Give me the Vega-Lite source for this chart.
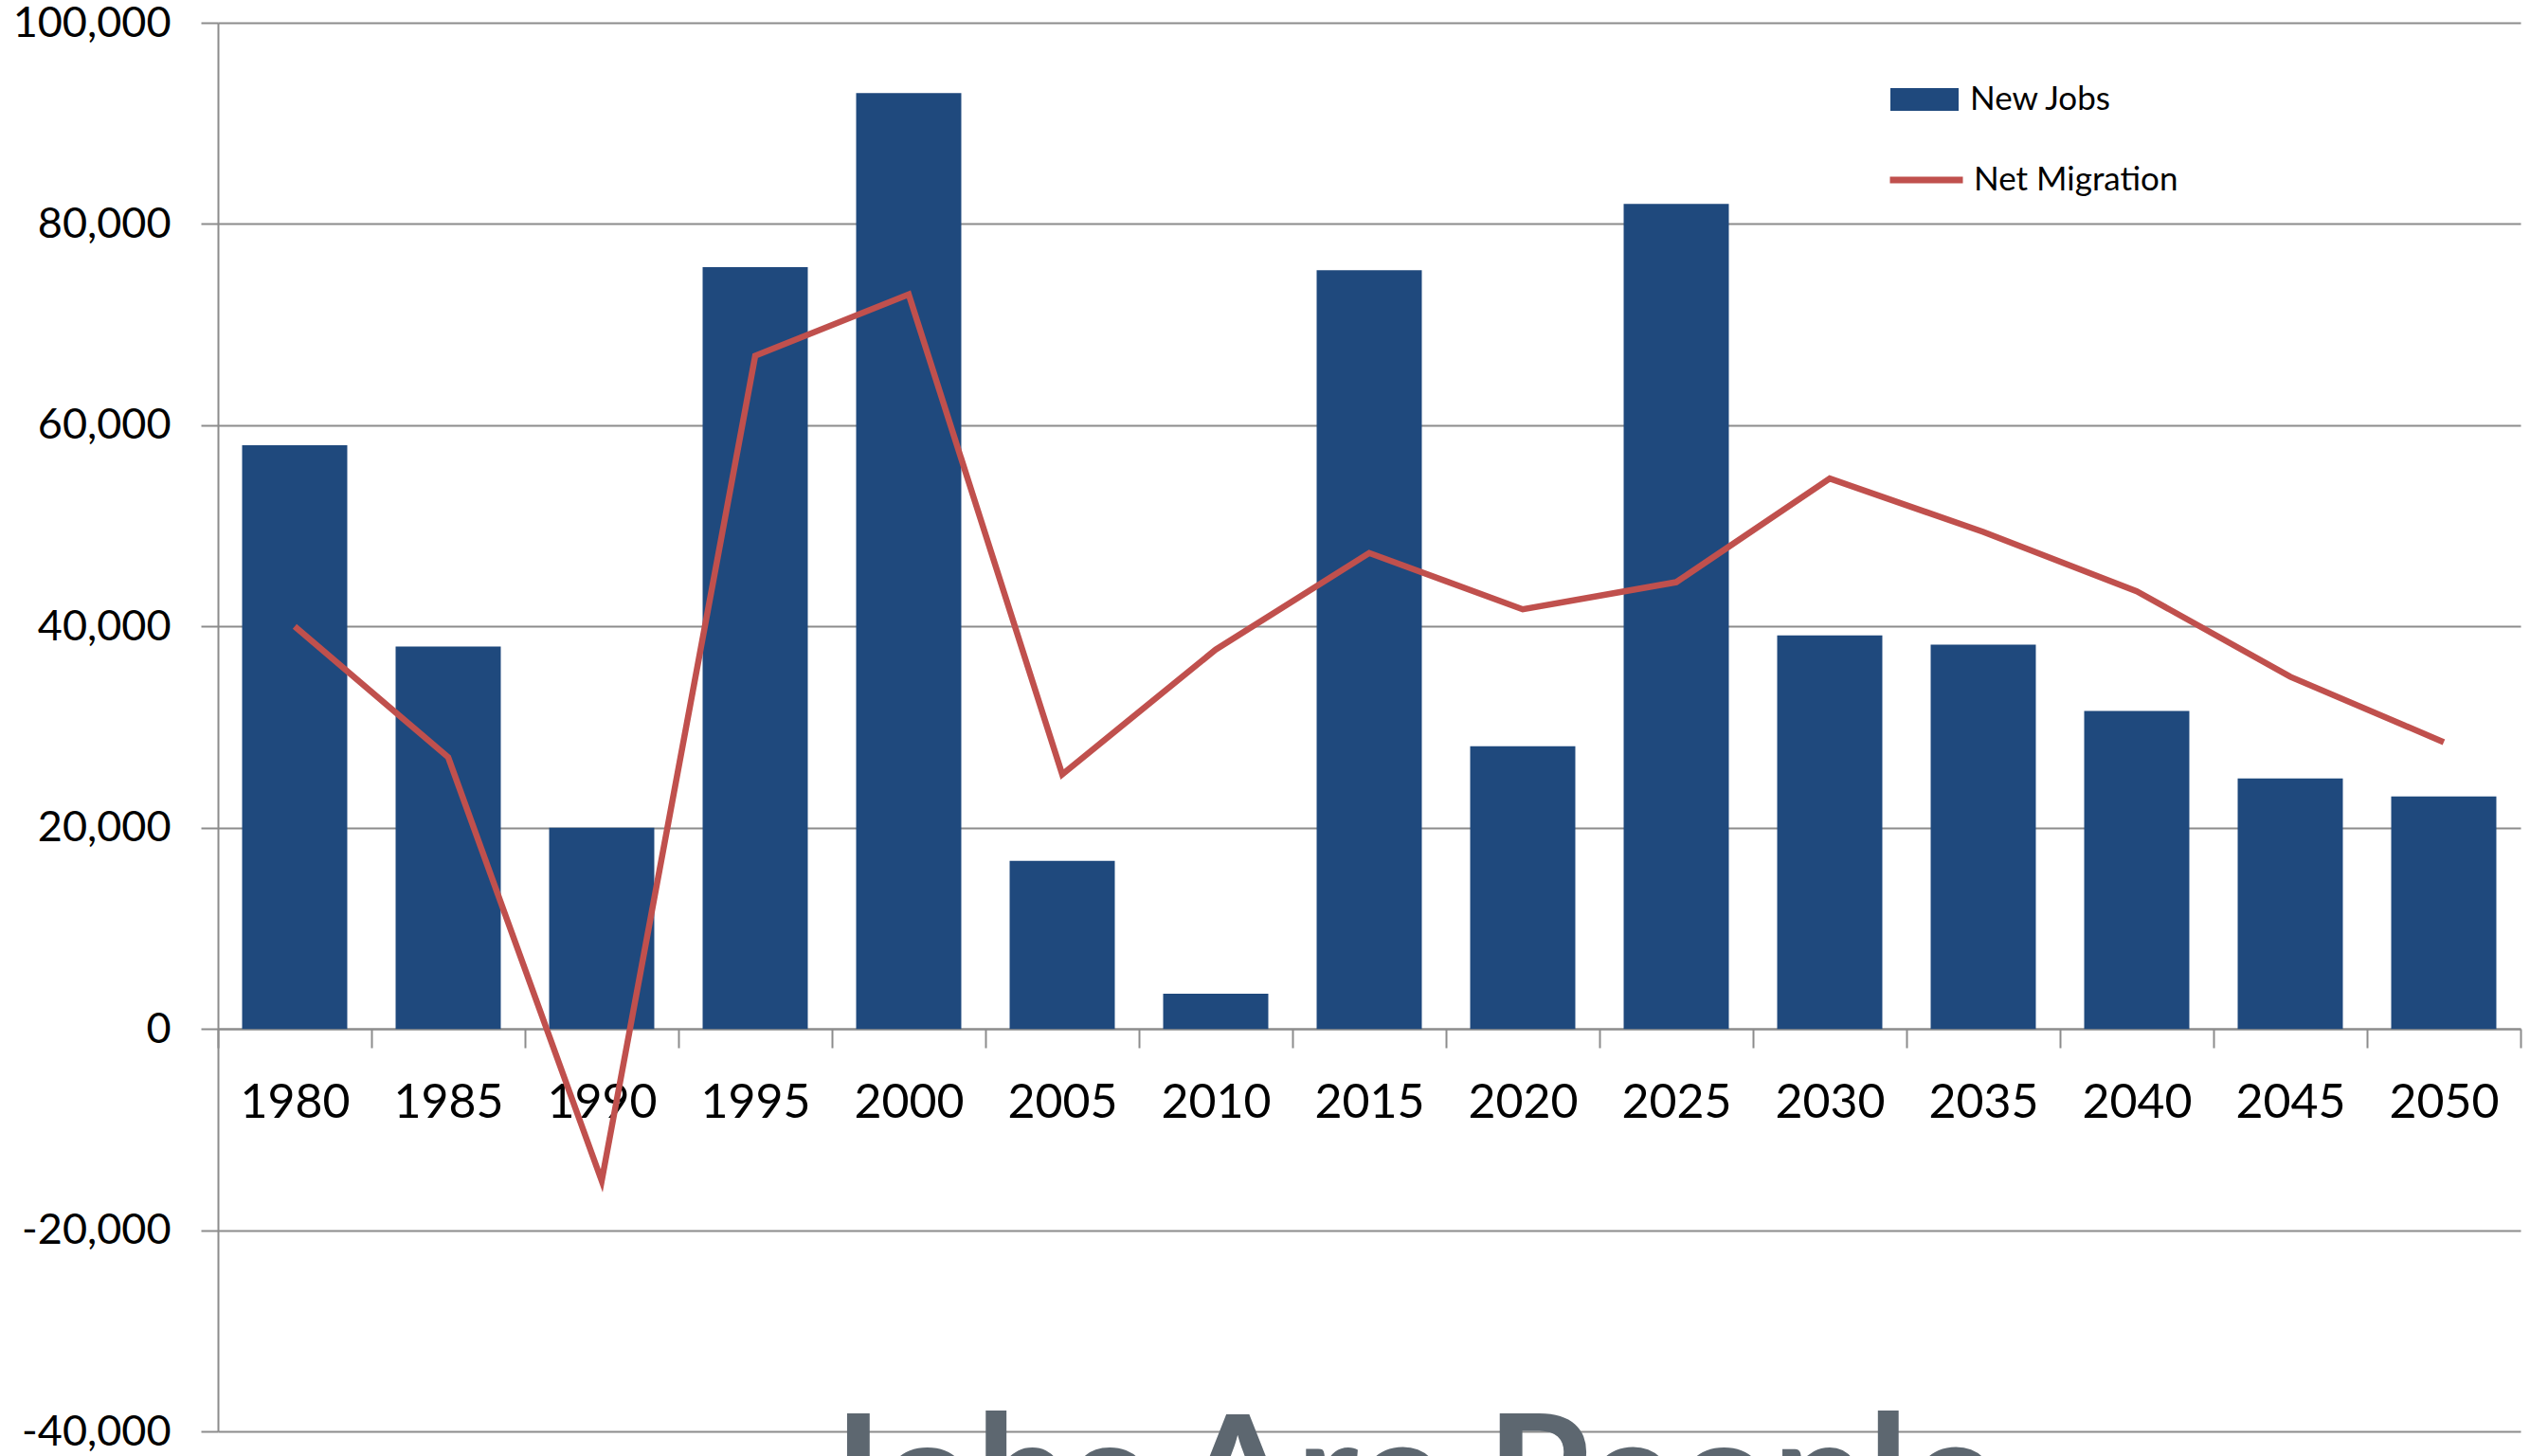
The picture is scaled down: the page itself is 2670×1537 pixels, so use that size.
{
  "$schema": "https://vega.github.io/schema/vega-lite/v6.json",
  "width": 2430,
  "height": 1487,
  "autosize": {"type": "none"},
  "padding": {"left": 230, "top": 24, "right": 10, "bottom": 26},
  "background": "white",
  "title": {
    "text": "Jobs Are People",
    "orient": "bottom",
    "anchor": "middle",
    "font": "Lato",
    "fontSize": 177,
    "fontWeight": "bold",
    "color": "#5d6770",
    "baseline": "alphabetic",
    "offset": 86,
    "dx": 37
  },
  "data": {
    "values": [
      {"year": "1980", "jobs": 58000, "migration": 40000},
      {"year": "1985", "jobs": 38000, "migration": 27000},
      {"year": "1990", "jobs": 20000, "migration": -15100},
      {"year": "1995", "jobs": 75700, "migration": 66900},
      {"year": "2000", "jobs": 93000, "migration": 73000},
      {"year": "2005", "jobs": 16700, "migration": 25300},
      {"year": "2010", "jobs": 3500, "migration": 37700},
      {"year": "2015", "jobs": 75400, "migration": 47300},
      {"year": "2020", "jobs": 28100, "migration": 41700},
      {"year": "2025", "jobs": 82000, "migration": 44400},
      {"year": "2030", "jobs": 39100, "migration": 54700},
      {"year": "2035", "jobs": 38200, "migration": 49400},
      {"year": "2040", "jobs": 31600, "migration": 43500},
      {"year": "2045", "jobs": 24900, "migration": 35000},
      {"year": "2050", "jobs": 23100, "migration": 28500}
    ]
  },
  "config": {
    "view": {"stroke": null},
    "axis": {"labelFont": "Lato", "labelColor": "#000000"}
  },
  "encoding": {
    "x": {
      "field": "year",
      "type": "ordinal",
      "scale": {"paddingInner": 0, "paddingOuter": 0},
      "axis": {
        "title": null,
        "labelAngle": 0,
        "labelFontSize": 50,
        "labelPadding": 33,
        "tickBand": "extent",
        "tickSize": 20,
        "tickColor": "#8c8c8c",
        "tickWidth": 2,
        "domainColor": "#8c8c8c",
        "domainWidth": 2,
        "grid": false,
        "offset": -425
      }
    }
  },
  "layer": [
    {
      "mark": {"type": "bar", "width": {"band": 0.685}},
      "encoding": {
        "y": {
          "field": "jobs",
          "type": "quantitative",
          "scale": {"domain": [-40000, 100000], "nice": false},
          "axis": {
            "title": null,
            "values": [-40000, -20000, 0, 20000, 40000, 60000, 80000, 100000],
            "labelExpr": "replace(format(datum.value, ',.0f'), '\u2212', '-')",
            "labelFontSize": 45,
            "labelPadding": 32,
            "tickSize": 18,
            "tickColor": "#8c8c8c",
            "tickWidth": 2,
            "domainColor": "#8c8c8c",
            "domainWidth": 2,
            "grid": true,
            "gridColor": "#8c8c8c",
            "gridWidth": 2,
            "gridOpacity": 1
          }
        },
        "fill": {
          "datum": "New Jobs",
          "type": "nominal",
          "scale": {"range": ["#1f497d"]},
          "legend": {
            "title": null,
            "orient": "none",
            "legendX": 1765,
            "legendY": 45,
            "padding": 0,
            "symbolType": "M-1,-0.333H1V0.333H-1Z",
            "symbolSize": 5184,
            "symbolStrokeWidth": 0,
            "symbolOpacity": 1,
            "labelFont": "Lato",
            "labelFontSize": 35,
            "labelColor": "#000000",
            "labelOffset": 12,
            "labelLimit": 0
          }
        }
      }
    },
    {
      "mark": {"type": "line", "strokeWidth": 6.5, "strokeJoin": "miter"},
      "encoding": {
        "y": {"field": "migration", "type": "quantitative"},
        "stroke": {
          "datum": "Net Migration",
          "type": "nominal",
          "scale": {"range": ["#c0504d"]},
          "legend": {
            "title": null,
            "orient": "none",
            "legendX": 1761,
            "legendY": 124,
            "padding": 0,
            "symbolType": "stroke",
            "symbolSize": 5929,
            "symbolStrokeWidth": 7,
            "labelFont": "Lato",
            "labelFontSize": 35,
            "labelColor": "#000000",
            "labelOffset": 8,
            "labelLimit": 0
          }
        }
      }
    }
  ]
}
